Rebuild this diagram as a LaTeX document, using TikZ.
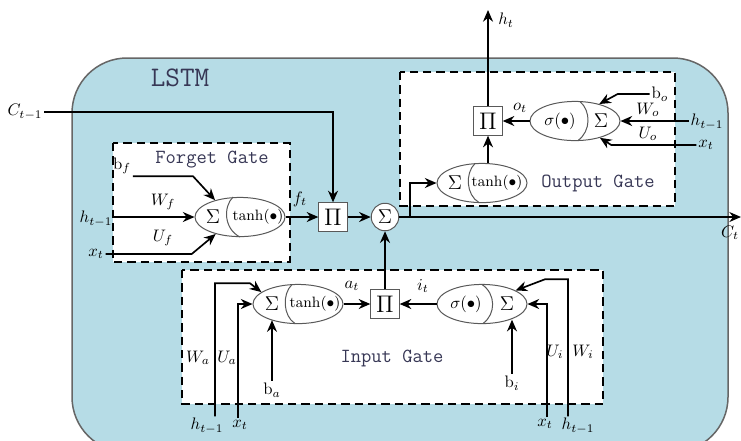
\documentclass[tikz,border=0pt]{standalone}
\usetikzlibrary{shapes.geometric,arrows.meta}
\definecolor{lstmbg}{RGB}{182,220,230}
\definecolor{gatetxt}{RGB}{55,55,85}
\begin{document}
\begin{tikzpicture}[x=0.6pt,y=-0.6pt,
	wire/.style={line width=1pt},
	arr/.style={wire,-{Stealth[length=7pt,width=6pt]}},
	gatebox/.style={draw,line width=1.1pt,dash pattern=on 5pt off 3pt,fill=white},
	cell/.style={ellipse,draw=black!65,line width=0.6pt,fill=white,minimum width=54pt,minimum height=23.5pt,inner sep=0pt},
	split/.style={draw=black!65,line width=0.6pt},
	prod/.style={draw=black!65,line width=0.6pt,fill=white,minimum width=17pt,minimum height=17pt,inner sep=0pt,font=\Large},
	sumc/.style={circle,draw=black!65,line width=0.6pt,fill=white,minimum size=16.5pt,inner sep=0pt,font=\large},
	lbl/.style={inner sep=1pt},
	fn/.style={inner sep=0pt,font=\small},
	gtxt/.style={font=\fontsize{12}{14}\selectfont\ttfamily,text=gatetxt}]
	
	\useasboundingbox (0,0) rectangle (741,440);
	
	% cell body
	\draw[fill=lstmbg,draw=black!60,line width=0.9pt,rounded corners=33pt] (72,58) rectangle (728,452);
	\node[font=\fontsize{17}{20}\selectfont\ttfamily,text=gatetxt] (lstm) at (180,78) {LSTM};
	
	% gate frames
	\draw[gatebox] (113,143) rectangle (290,262);
	\draw[gatebox] (400,72) rectangle (675,206);
	\draw[gatebox] (182,270) rectangle (603,404);
	\node[gtxt] (fgt) at (212,160) {Forget Gate};
	\node[gtxt] (ogt) at (598,183) {Output Gate};
	\node[gtxt] (igt) at (392,358) {Input Gate};
	
	% forget gate
	\node[cell] (fe) at (240,217) {};
	\draw[split] ([shift={(-7,-20)}]fe.center) .. controls ([shift={(-17,-10)}]fe.center) and ([shift={(-16,12)}]fe.center) .. ([shift={(0,20)}]fe.center);
	\node (fsum) at (213,217) {\large$\Sigma$};
	\node[fn] (ftanh) at (258,217) {$\tanh(\bullet)$};
	\node[prod] (fp) at (333,217) {$\Pi$};
	\node[sumc] (sc) at (385,217) {$\Sigma$};
	
	\node[lbl] (cprev) at (25,112) {$C_{t-1}$};
	\node[lbl] (hf) at (96,219) {$h_{t-1}$};
	\node[lbl] (xf) at (96,254) {$x_t$};
	\node[lbl] (bf) at (122,166) {$\mathrm{b}_f$};
	\node[lbl] (wf) at (163,202) {$W_f$};
	\node[lbl] (uf) at (163,238) {$U_f$};
	\node[lbl] (ft) at (300,199) {$f_t$};
	
	\draw[arr] (hf.east |- fe) -- (fe.west);
	\draw[arr] (xf.east) -- ++(86,0) -- (fe.215);
	\draw[arr] (bf.south east) -- ++(60,0) -- (fe.146);
	\draw[arr] (fe) -- (fp);
	\draw[arr] (cprev.east) -| (fp.north);
	\draw[arr] (fp) -- (sc);
	
	% cell state out
	\coordinate (cout) at (741,217);
	\coordinate (br) at (410,217);
	\draw[arr] (sc) -- (cout);
	\node[lbl,anchor=east] (ct) at (741,233) {$C_t$};
	
	% output gate
	\node[cell] (oe1) at (575,121) {};
	\draw[split] ([shift={(5,-19.5)}]oe1.center) .. controls ([shift={(16,-10)}]oe1.center) and ([shift={(16,10)}]oe1.center) .. ([shift={(3,19.5)}]oe1.center);
	\node (osig) at (560,121) {$\sigma(\bullet)$};
	\node (osum) at (601,121) {\large$\Sigma$};
	\node[cell] (oe2) at (482,183) {};
	\draw[split] ([shift={(-7,-19.5)}]oe2.center) .. controls ([shift={(-17,-10)}]oe2.center) and ([shift={(-16,12)}]oe2.center) .. ([shift={(-3,19.5)}]oe2.center);
	\node (osum2) at (455,183) {\large$\Sigma$};
	\node[fn] (otanh) at (497,183) {$\tanh(\bullet)$};
	\node[prod] (op) at (488,121) {$\Pi$};
	
	\node[lbl] (ho) at (707,122) {$h_{t-1}$};
	\node[lbl] (xo) at (706,145) {$x_t$};
	\node[lbl] (bo) at (660,94) {$\mathrm{b}_o$};
	\node[lbl] (wo) at (648,110) {$W_o$};
	\node[lbl] (uo) at (648,134) {$U_o$};
	\node[lbl] (ot) at (520,108) {$o_t$};
	\node[lbl] (ht) at (506,20) {$h_t$};
	\coordinate (htop) at (488,10);
	
	\draw[arr] (ho.west |- oe1) -- (oe1.east);
	\draw[arr] (xo.west) -- ++(-85,0) -- (oe1.326);
	\draw[arr] (bo.west) -- ++(-32,0) -- (oe1.35);
	\draw[arr] (oe1) -- (op);
	\draw[arr] (br) |- (oe2.west);
	\draw[arr] (oe2.north -| op) -- (op.south);
	\draw[arr] (op) -- (htop);
	
	% input gate
	\node[cell] (ie1) at (298,304) {};
	\draw[split] ([shift={(-6,-19.5)}]ie1.center) .. controls ([shift={(-16,-10)}]ie1.center) and ([shift={(-15,12)}]ie1.center) .. ([shift={(-3,19.5)}]ie1.center);
	\node (isum1) at (272,304) {\large$\Sigma$};
	\node[fn] (itanh) at (315,304) {$\tanh(\bullet)$};
	\node[prod] (ip) at (385,304) {$\Pi$};
	\node[cell] (ie2) at (482,304) {};
	\draw[split] ([shift={(0,-19.5)}]ie2.center) .. controls ([shift={(14,-10)}]ie2.center) and ([shift={(14,10)}]ie2.center) .. ([shift={(1,19.5)}]ie2.center);
	\node (isig) at (466,304) {$\sigma(\bullet)$};
	\node (isum2) at (507,304) {\large$\Sigma$};
	
	\node[lbl] (at) at (352,286) {$a_t$};
	\node[lbl] (it) at (423,286) {$i_t$};
	\node[lbl] (hi1) at (207,426) {$h_{t-1}$};
	\node[lbl] (xi1) at (240,425) {$x_t$};
	\node[lbl] (ba) at (272,390) {$\mathrm{b}_a$};
	\node[lbl] (wa) at (198,358) {$W_a$};
	\node[lbl] (ua) at (227,358) {$U_a$};
	\node[lbl] (xi2) at (545,424) {$x_t$};
	\node[lbl] (hi2) at (578,426) {$h_{t-1}$};
	\node[lbl] (bi) at (512,383) {$\mathrm{b}_i$};
	\node[lbl] (ui) at (555,352) {$U_i$};
	\node[lbl] (wi) at (583,352) {$W_i$};
	
	\draw[arr] (ie1) -- (ip);
	\draw[arr] (ie2) -- (ip);
	\draw[arr] (ip) -- (sc);
	\draw[arr] ([xshift=4.8pt]hi1.north) -- ++(0,-133) -- ++(35,0) -- (ie1.162);
	\draw[arr] ([xshift=-1.2pt]xi1.north) -- ([xshift=-1.2pt]xi1.north |- ie1.west) -- (ie1.west);
	\draw[arr] (ba.north) -- (ba.north |- ie1.211);
	\draw[arr] ([xshift=1.2pt]xi2.north) -- ([xshift=1.2pt]xi2.north |- ie2.east) -- (ie2.east);
	\draw[arr] ([xshift=-6pt]hi2.north) -- ++(0,-137) -- ++(-23,0) -- (ie2.22);
	\draw[arr] (bi.north) -- (bi.north |- ie2.331);
	
\end{tikzpicture}
\end{document}
